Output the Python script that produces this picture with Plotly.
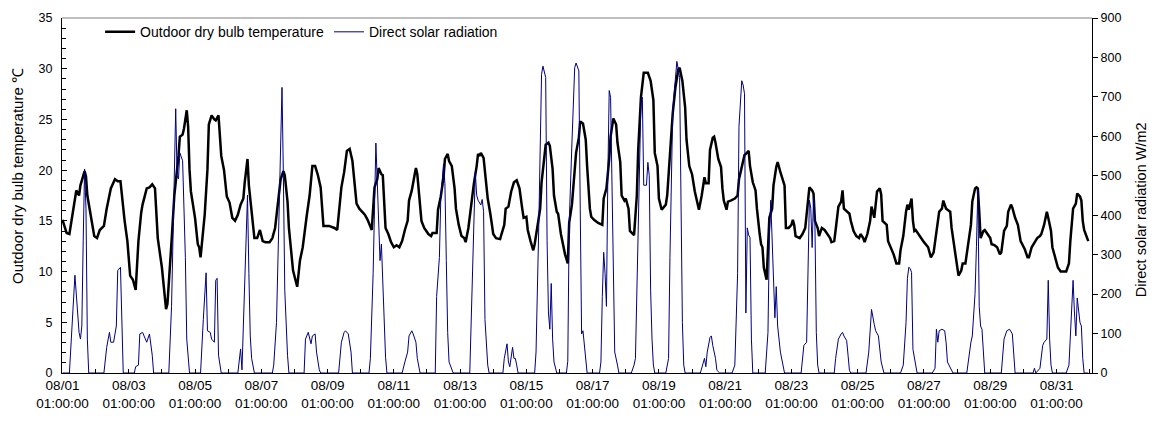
import plotly.graph_objects as go

# Hours counted from 08/01 00:00 (hour 1 = 08/01 01:00:00)
TEMP_HOURS = [1,4,6,8,11,13,14,17,18,19,21,22,24,26,28,31,33,36,39,41,43,46,48,50,52,54,56,58,59,62,64,66,68,70,73,76,77,80,82,85,86,88,89,91,92,93,94,97,99,100,101,104,106,107,109,111,112,114,116,118,120,122,124,126,128,130,132,133,135,136,138,140,142,144,146,148,151,153,155,157,159,161,162,164,165,168,171,173,175,178,180,182,184,186,188,190,192,194,198,200,203,205,207,209,211,214,216,220,222,225,227,229,230,232,233,234,235,237,239,241,243,245,247,249,251,252,254,256,257,258,260,261,263,266,268,269,272,273,275,277,278,280,281,283,285,286,288,290,292,293,295,297,299,301,302,303,304,306,307,309,311,313,315,318,319,321,322,324,326,328,330,332,334,335,337,338,340,342,343,345,347,348,350,351,353,354,356,357,359,360,362,363,365,367,368,370,372,373,375,376,378,380,381,383,384,386,389,392,393,395,397,398,400,402,403,405,406,408,409,411,412,414,415,417,418,420,421,422,425,427,429,430,432,433,435,436,438,439,441,443,445,447,448,450,452,453,455,457,459,461,462,464,466,467,469,470,472,473,474,476,478,479,480,482,483,485,488,490,491,493,495,496,498,499,501,503,504,506,507,508,509,511,512,513,515,516,518,519,521,523,524,525,527,529,530,531,532,535,537,539,540,542,544,545,546,548,549,551,553,555,557,558,560,561,563,565,566,567,569,571,572,574,576,578,579,581,582,584,586,587,589,590,591,593,594,595,598,599,601,603,605,607,608,610,612,613,614,616,617,618,619,621,623,625,628,630,632,634,636,638,639,641,644,645,647,648,650,652,653,655,657,659,660,662,663,664,665,666,668,669,671,673,674,676,678,680,681,683,685,686,688,689,691,693,695,698,700,701,703,705,707,709,710,712,714,715,717,718,720,722,724,726,728,730,731,733,735,736,738,739,740,741,743,744]
TEMP_VALUES = [15.1,13.8,13.7,15.4,18.0,17.5,18.5,19.9,19.4,17.5,15.9,15.4,13.5,13.3,14.1,14.5,16.2,18.2,19.1,18.9,18.9,15.0,13.0,9.6,9.2,8.2,13.0,15.8,16.6,18.2,18.3,18.6,18.2,13.3,10.4,6.3,6.8,13.0,17.5,21.4,23.3,23.5,24.1,25.9,24.3,20.1,17.9,15.3,12.7,12.4,11.4,15.6,20.1,24.5,25.4,25.0,24.9,25.4,21.4,20.0,17.4,16.8,15.3,15.0,15.6,16.6,17.2,18.8,21.1,18.5,15.6,13.3,13.3,14.1,13.0,12.9,12.9,13.3,14.3,16.6,19.1,19.9,19.5,16.9,14.3,10.1,8.5,11.1,12.4,15.6,17.5,20.4,20.4,19.5,18.3,14.5,14.5,14.5,14.3,14.1,18.3,19.8,21.9,22.1,20.9,16.7,16.2,15.6,15.1,14.1,18.3,19.1,20.2,19.6,19.5,16.9,14.3,13.7,12.9,12.4,12.6,12.4,13.0,14.1,15.0,17.0,18.0,19.5,20.2,19.6,16.9,15.0,14.3,13.7,13.5,13.8,13.8,16.1,17.4,19.3,21.1,21.6,20.9,20.4,18.2,16.2,14.6,13.5,13.3,12.9,14.3,16.6,18.7,20.4,21.6,21.4,21.7,21.2,19.6,17.2,15.6,13.7,13.3,13.2,13.7,14.6,16.2,16.4,17.9,18.8,19.0,18.2,16.2,15.3,15.4,14.1,13.0,12.1,12.7,14.3,16.2,18.8,21.4,22.5,22.7,22.4,20.1,17.5,15.9,15.7,13.7,13.0,11.7,10.8,14.8,16.6,20.5,21.7,23.2,24.8,24.6,23.0,20.4,16.2,15.4,15.1,14.8,14.6,17.2,18.2,21.1,23.3,25.1,24.5,22.7,20.8,17.5,17.0,17.2,16.2,14.0,13.7,13.6,17.5,22.0,27.2,28.5,29.6,29.6,28.8,26.9,21.7,20.4,17.2,16.1,16.3,16.6,17.5,21.1,25.6,28.2,29.9,30.1,28.8,26.2,23.0,20.4,19.6,17.9,16.6,16.1,17.5,19.3,18.7,18.7,22.0,23.2,23.3,22.7,21.1,20.3,18.2,17.0,16.1,16.9,17.0,17.2,17.5,19.1,20.3,21.5,21.6,21.9,20.4,18.8,18.0,16.2,13.7,12.7,12.4,10.4,9.2,12.1,15.3,16.2,18.5,20.3,20.8,19.8,18.8,18.5,14.3,14.3,14.6,15.1,14.6,13.5,13.3,13.7,14.3,15.6,18.3,18.0,17.7,15.0,14.3,13.5,14.3,14.1,13.7,13.3,12.9,13.0,14.1,16.4,16.9,18.0,16.2,15.9,15.7,15.0,14.0,13.5,13.3,13.7,13.3,12.9,13.7,15.0,16.4,15.3,16.4,17.9,18.2,17.6,15.0,14.6,13.0,12.4,11.7,10.8,10.8,12.1,13.5,15.9,16.6,16.1,17.2,15.0,14.0,14.1,13.7,13.2,12.9,12.4,11.4,11.9,14.0,15.9,16.2,17.0,16.2,15.9,14.3,12.5,11.4,9.6,10.1,10.8,10.8,13.0,14.6,16.9,18.2,18.3,18.2,16.0,13.3,14.0,14.1,13.7,13.3,12.7,12.6,12.4,11.7,11.9,14.0,14.5,15.9,16.6,16.3,15.3,14.6,13.0,12.2,11.4,11.4,12.4,12.9,13.3,13.5,13.7,14.6,15.9,15.3,14.0,12.4,11.4,10.4,10.0,10.0,10.0,10.8,13.0,16.2,16.7,17.7,17.4,17.0,15.0,14.1,13.3,13.0]

RAD_HOURS = [1,6,10,12,13,14,15,16,17,18,19,20,31,33,35,36,38,40,41,43,44,45,53,54,56,57,59,62,64,66,67,78,80,83,84,85,86,87,88,90,91,93,101,103,105,106,108,109,111,112,113,114,116,128,130,131,133,135,136,137,138,140,153,154,156,158,160,161,162,164,165,176,177,179,181,182,184,185,187,188,201,203,205,206,208,210,211,223,224,226,228,229,230,231,232,234,235,236,247,249,251,252,254,255,257,258,260,271,272,274,275,277,278,279,280,281,282,284,296,298,300,301,302,304,305,306,307,309,310,320,321,323,324,325,327,328,329,330,331,343,344,346,348,349,351,352,353,354,355,356,357,359,366,367,368,370,372,373,375,376,377,378,380,381,390,391,392,393,394,395,396,397,398,400,401,403,404,413,415,416,418,420,421,422,424,425,426,427,428,429,430,438,440,441,443,445,446,448,449,450,451,452,463,465,466,467,468,470,471,472,474,475,477,486,488,490,491,493,494,495,496,497,498,499,500,501,510,512,513,514,515,517,518,519,521,523,524,536,537,538,540,541,542,543,544,545,546,547,548,549,560,561,563,565,566,567,569,570,571,572,583,585,586,587,589,590,592,593,594,596,608,610,611,612,613,614,615,616,617,618,619,620,631,633,634,635,636,638,640,641,642,644,646,656,658,659,660,662,663,664,665,666,667,668,669,681,682,683,685,687,689,690,691,704,705,706,708,709,711,712,714,715,716,717,718,728,730,731,733,734,735,736,737,738,739,740,741,744]
RAD_VALUES = [0,0,248,132,103,86,119,335,517,418,86,0,0,65,103,78,78,119,260,268,86,0,0,16,20,99,103,78,99,45,0,0,169,670,500,492,558,550,538,293,86,0,0,136,254,107,103,86,78,235,240,45,0,0,61,8,210,451,252,94,37,0,0,20,128,418,724,500,210,45,0,0,86,103,74,94,99,53,8,0,0,78,103,107,99,53,0,0,37,252,583,484,376,285,327,94,40,0,0,28,53,94,107,99,78,37,0,0,194,293,442,530,480,285,103,28,20,0,0,260,509,451,438,426,440,409,136,20,0,0,37,74,28,16,65,37,37,20,0,0,53,376,757,778,749,335,152,111,227,86,28,0,0,30,376,583,774,786,766,418,99,107,37,0,0,28,194,306,252,169,500,716,699,252,53,20,0,0,20,37,335,691,699,476,476,534,500,210,86,20,0,0,37,293,666,749,790,749,459,128,20,0,0,28,37,16,53,90,94,70,37,7,0,0,20,252,625,741,730,708,152,368,350,343,86,0,0,103,343,438,318,140,219,119,53,20,0,0,45,70,78,252,438,418,318,447,380,103,20,0,0,37,86,99,103,94,82,45,7,0,0,53,119,161,123,107,94,65,28,0,0,20,70,128,240,268,265,255,60,37,12,0,0,12,111,78,107,111,107,78,28,12,0,0,61,78,94,202,320,465,169,119,111,37,0,0,37,86,107,111,99,37,0,0,12,0,7,12,70,78,86,235,86,20,0,0,20,86,235,152,94,190,150,128,119,37,0,0]

TICK_HOURS = [1, 49, 97, 145, 193, 241, 289, 337, 385, 433, 481, 529, 577, 625, 673, 721]
TICK_LABELS = ["08/01<br>01:00:00", "08/03<br>01:00:00", "08/05<br>01:00:00", "08/07<br>01:00:00",
               "08/09<br>01:00:00", "08/11<br>01:00:00", "08/13<br>01:00:00", "08/15<br>01:00:00",
               "08/17<br>01:00:00", "08/19<br>01:00:00", "08/21<br>01:00:00", "08/23<br>01:00:00",
               "08/25<br>01:00:00", "08/27<br>01:00:00", "08/29<br>01:00:00", "08/31<br>01:00:00"]

LEFT_TITLE = "Outdoor dry bulb temperature ℃"
RIGHT_TITLE = "Direct solar radiation W/m2"

FONT = "Liberation Sans, Arial, sans-serif"

fig = go.Figure()
fig.add_trace(go.Scatter(x=TEMP_HOURS, y=TEMP_VALUES, mode="lines",
                         name="Outdoor dry bulb temperature",
                         line=dict(color="black", width=2.5)))
fig.add_trace(go.Scatter(x=RAD_HOURS, y=RAD_VALUES, mode="lines",
                         name="Direct solar radiation", yaxis="y2",
                         line=dict(color="#000080", width=1)))

fig.update_layout(
    width=1158, height=423,
    margin=dict(l=62, r=66, t=11, b=50),
    paper_bgcolor="white", plot_bgcolor="white",
    font=dict(family=FONT, size=13, color="black"),
    showlegend=True,
    legend=dict(orientation="h", x=0.037, y=1.005, xanchor="left", yanchor="top",
                bgcolor="rgba(0,0,0,0)", font=dict(size=14), itemwidth=30,
                tracegroupgap=0),
    xaxis=dict(range=[0.64, 746.7], tickmode="array", tickvals=TICK_HOURS,
               ticktext=TICK_LABELS, showline=True, linecolor="black", linewidth=1,
               ticks="inside", ticklen=4, tickcolor="black", showgrid=False,
               zeroline=False, tickangle=0, tickfont=dict(size=13.5),
               minor=dict(tick0=1, dtick=24, ticks="inside", ticklen=4, tickcolor="black")),
    yaxis=dict(range=[0, 35], dtick=5, showline=True, linecolor="black", linewidth=1,
               ticks="inside", ticklen=5, tickcolor="black", showgrid=False, zeroline=False,
               tickfont=dict(size=12.5), ticklabelstandoff=6,
               minor=dict(dtick=1, ticks="inside", ticklen=4, tickcolor="black")),
    yaxis2=dict(range=[0, 900], dtick=100, overlaying="y", side="right", showline=True,
                linecolor="black", linewidth=1, ticks="outside", ticklen=5, tickcolor="black",
                showgrid=False, zeroline=False, tickfont=dict(size=12.5)),
    annotations=[
        dict(text=LEFT_TITLE, xref="paper", yref="paper", x=-0.0427, y=0.555,
             xanchor="center", yanchor="middle", textangle=-90, showarrow=False,
             font=dict(size=15)),
        dict(text=RIGHT_TITLE, xref="paper", yref="paper", x=1.0476, y=0.4586,
             xanchor="center", yanchor="middle", textangle=-90, showarrow=False,
             font=dict(size=14.5)),
    ],
    shapes=[dict(type="line", xref="paper", yref="paper", x0=0, x1=1, y0=1, y1=1,
                 line=dict(color="#808080", width=1))],
)

fig.write_html("out.html")
